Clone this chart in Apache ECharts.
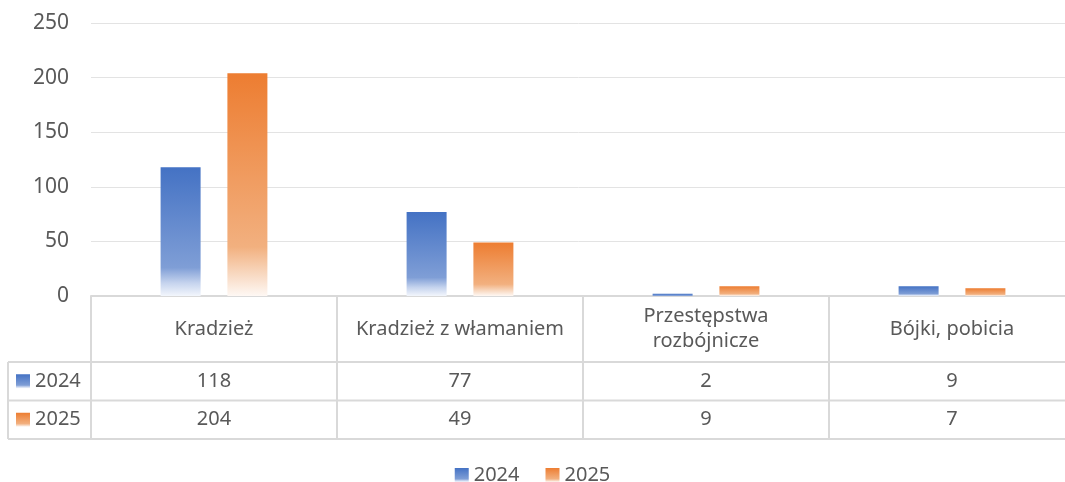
<!DOCTYPE html>
<html>
<head>
<meta charset="utf-8">
<script src="https://cdn.jsdelivr.net/npm/echarts@6/dist/echarts.min.js"></script>
<style>
  html, body { margin: 0; padding: 0; background: #fff; }
  #main { width: 1065px; height: 482px; }
</style>
</head>
<body>
<div id="main"></div>
<script>
// dane
var categories = ['Kradzież', 'Kradzież z włamaniem', 'Przestępstwa\nrozbójnicze', 'Bójki, pobicia'];
var years = ['2024', '2025'];
var values2024 = [118, 77, 2, 9];
var values2025 = [204, 49, 9, 7];
var yMax = 250;
var yStep = 50;

var textColor = '#595959';
var lineColor = '#d9d9d9';
var font = 'Noto Sans';

// gradient jak w Excelu: pełny kolor u góry, biały na dole
function grad(top, mid, low, bottom) {
  return new echarts.graphic.LinearGradient(0, 0, 0, 1, [
    { offset: 0, color: top },
    { offset: 0.78, color: mid },
    { offset: 0.9, color: low },
    { offset: 1, color: bottom }
  ]);
}
var blue = grad('#4472C4', '#7F9ED6', '#C6D4EE', '#F3F6FC');
var orange = grad('#ED7D31', '#F2B07F', '#F8D8C0', '#FEF8F4');

var chart = echarts.init(document.getElementById('main'));

var option = {
  backgroundColor: '#ffffff',
  animation: false,
  textStyle: { fontFamily: font },
  grid: { left: 91, width: 984, top: 23, bottom: 186, containLabel: false, outerBoundsMode: 'none' },
  legend: {
    top: 460,
    left: 'center',
    itemWidth: 14,
    itemHeight: 14,
    itemGap: 26,
    icon: 'rect',
    textStyle: { color: textColor, fontSize: 20, fontFamily: font },
    data: years
  },
  xAxis: {
    type: 'category',
    data: categories,
    axisLine: { lineStyle: { color: lineColor, width: 2 } },
    axisTick: { show: true, length: 143, lineStyle: { color: lineColor, width: 2 } },
    axisLabel: {
      color: textColor,
      fontSize: 20,
      fontFamily: font,
      interval: 0,
      margin: 33,
      verticalAlign: 'middle',
      lineHeight: 25
    }
  },
  yAxis: {
    type: 'value',
    min: 0,
    max: yMax,
    interval: yStep,
    axisLine: { show: false },
    axisTick: { show: false },
    axisLabel: { color: textColor, fontSize: 21, fontFamily: font, margin: 22 },
    splitLine: { lineStyle: { color: '#e3e3e3', width: 1 } }
  },
  series: [
    {
      name: years[0],
      type: 'bar',
      data: values2024,
      barWidth: 40,
      barGap: '67%',
      itemStyle: { color: blue }
    },
    {
      name: years[1],
      type: 'bar',
      data: values2025,
      barWidth: 40,
      barGap: '67%',
      itemStyle: { color: orange }
    }
  ]
};

chart.setOption(option);

// tabela danych pod wykresem
function drawTable() {
  var headerH = 66, rowH = 38.5;
  var y0 = chart.convertToPixel({ yAxisIndex: 0 }, 0);
  var c0 = chart.convertToPixel({ xAxisIndex: 0 }, 0);
  var c1 = chart.convertToPixel({ xAxisIndex: 0 }, 1);
  var band = c1 - c0;
  var gridLeft = c0 - band / 2;
  var gridRight = gridLeft + band * categories.length;
  var leftX = 8;
  var rows = [values2024, values2025];
  var colors = [blue, orange];
  var els = [];

  for (var r = 0; r <= rows.length; r++) {
    var y = y0 + headerH + r * rowH;
    els.push({
      type: 'line',
      shape: { x1: leftX, y1: y, x2: gridRight, y2: y },
      style: { stroke: lineColor, lineWidth: 2 }
    });
  }
  els.push({
    type: 'line',
    shape: { x1: leftX, y1: y0 + headerH, x2: leftX, y2: y0 + headerH + rows.length * rowH },
    style: { stroke: lineColor, lineWidth: 2 }
  });

  rows.forEach(function (vals, r) {
    var cy = y0 + headerH + r * rowH + rowH / 2;
    // klucz legendy w tabeli
    els.push({
      type: 'rect',
      shape: { x: 16, y: cy - 7, width: 14, height: 14 },
      style: { fill: colors[r] }
    });
    els.push({
      type: 'text',
      x: 35, y: cy,
      style: { text: years[r], fill: textColor, font: '20px "' + font + '"', textAlign: 'left', textVerticalAlign: 'middle' }
    });
    vals.forEach(function (v, i) {
      var cx = chart.convertToPixel({ xAxisIndex: 0 }, i);
      els.push({
        type: 'text',
        x: cx, y: cy,
        style: { text: String(v), fill: textColor, font: '20px "' + font + '"', textAlign: 'center', textVerticalAlign: 'middle' }
      });
    });
  });

  chart.setOption({ graphic: els });
}
drawTable();
</script>
</body>
</html>
